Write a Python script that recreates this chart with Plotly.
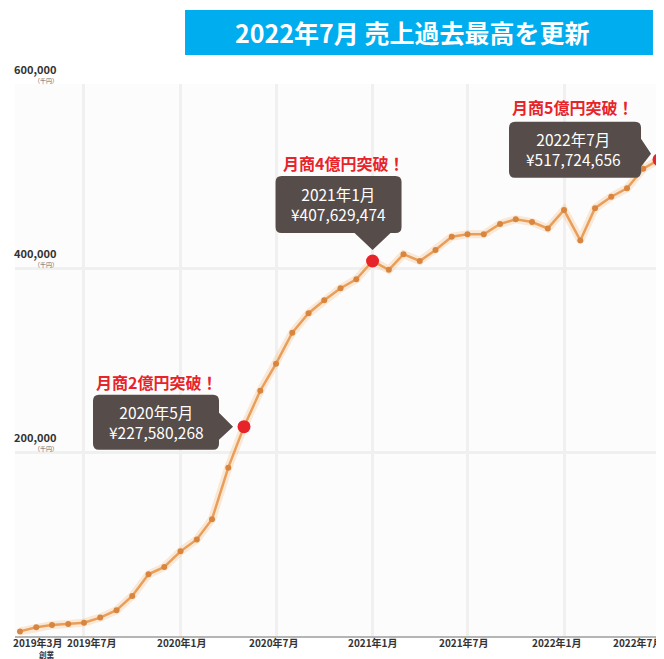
import plotly.graph_objects as go

# monthly sales (unit: 千円)
months = [
    "2019-03", "2019-04", "2019-05", "2019-06", "2019-07", "2019-08", "2019-09",
    "2019-10", "2019-11", "2019-12", "2020-01", "2020-02", "2020-03", "2020-04",
    "2020-05", "2020-06", "2020-07", "2020-08", "2020-09", "2020-10", "2020-11",
    "2020-12", "2021-01", "2021-02", "2021-03", "2021-04", "2021-05", "2021-06",
    "2021-07", "2021-08", "2021-09", "2021-10", "2021-11", "2021-12", "2022-01",
    "2022-02", "2022-03", "2022-04", "2022-05", "2022-06", "2022-07",
]
sales = [
    5000, 9500, 12000, 13000, 14500, 20000, 28000,
    43500, 67000, 75000, 92000, 105000, 127000, 183000,
    227580, 266600, 296000, 329700, 350800, 365000, 378000,
    387700, 407629, 398000, 415000, 407600, 419600, 434000,
    436600, 436600, 447800, 453000, 450000, 443000, 463000,
    430000, 465000, 477500, 486600, 508000, 517725,
]

# milestones
ms_months = ["2020-05", "2021-01", "2022-07"]
ms_yen = [227580268, 407629474, 517724656]
ms_headlines = ["月商2億円突破！", "月商4億円突破！", "月商5億円突破！"]

# axis labels
x_tick_months = ["2019-03", "2019-07", "2020-01", "2020-07", "2021-01", "2021-07", "2022-01", "2022-07"]
x_tick_labels = ["2019年3月", "2019年7月", "2020年1月", "2020年7月",
                 "2021年1月", "2021年7月", "2022年1月", "2022年7月"]
founding_note = "創業"
y_tick_vals = [200000, 400000, 600000]

title_text = "2022年7月 売上過去最高を更新"

FONT = "Noto Sans CJK JP"
BOX = "#564c49"
RED = "#e8242b"

# label nudges (pixels) and anchors for the x labels
x_label_shift = [-8, 8, 1, -2, 0, -4, -7, 5]
x_label_anchor = ["left", "center", "center", "center", "center", "center", "center", "right"]


def callout_path(l, r, t, b, rad, side, p0, p1, tip):
    """rounded box (pixel offsets, y up) with a pointer on the right or bottom side"""
    tx, ty = tip
    d = f"M{l + rad},{t} L{r - rad},{t} Q{r},{t} {r},{t - rad} "
    if side == "right":
        d += f"L{r},{p0} L{tx},{ty} L{r},{p1} "
    d += f"L{r},{b + rad} Q{r},{b} {r - rad},{b} "
    if side == "bottom":
        d += f"L{p1},{b} L{tx},{ty} L{p0},{b} "
    d += f"L{l + rad},{b} Q{l},{b} {l},{b + rad} L{l},{t - rad} Q{l},{t} {l + rad},{t} Z"
    return d


# callout geometry relative to each milestone dot, in pixels
callouts = [
    dict(box=(-151, -25, 32, -23), side="right", p=(14, -13), tip=(-11, 0),
         text_shift=(-88, 5), head_shift=(-88, 45)),
    dict(box=(-97, 29, 85, 28), side="bottom", p=(-18, 18), tip=(0, 11),
         text_shift=(-34, 57), head_shift=(-29, 98)),
    dict(box=(-150, -18, 38, -18), side="right", p=(21, -7), tip=(-8, 6),
         text_shift=(-86, 11), head_shift=(-87, 53)),
]

fig = go.Figure()

# soft glow under the line
fig.add_trace(go.Scatter(
    x=months, y=sales, mode="lines",
    line=dict(color="rgba(245,170,100,0.25)", width=8),
    hoverinfo="skip",
))
fig.add_trace(go.Scatter(
    x=months, y=sales, mode="lines+markers",
    line=dict(color="#e99e5a", width=2.5),
    marker=dict(color="#d8863f", size=6),
    hoverinfo="skip",
))
fig.add_trace(go.Scatter(
    x=ms_months, y=[v / 1000 for v in ms_yen], mode="markers",
    marker=dict(color=RED, size=13),
    hoverinfo="skip",
))

shapes = []
annotations = []

for m, yen, head, c in zip(ms_months, ms_yen, ms_headlines, callouts):
    l, r, t, b = c["box"]
    yv = yen / 1000
    shapes.append(dict(
        type="path", xref="x", yref="y", xsizemode="pixel", ysizemode="pixel",
        xanchor=m, yanchor=yv,
        path=callout_path(l, r, t, b, 6, c["side"], c["p"][0], c["p"][1], c["tip"]),
        fillcolor=BOX, line=dict(width=0), layer="above",
    ))
    label = f"{m[:4]}年{int(m[5:])}月<br>¥{yen:,}"
    annotations.append(dict(
        x=m, y=yv, xref="x", yref="y", text=label, showarrow=False,
        xshift=c["text_shift"][0], yshift=c["text_shift"][1],
        font=dict(family=FONT, size=15.5, color="white"),
        xanchor="center", yanchor="middle",
    ))
    annotations.append(dict(
        x=m, y=yv, xref="x", yref="y", text=head, showarrow=False,
        xshift=c["head_shift"][0], yshift=c["head_shift"][1],
        font=dict(family=FONT, size=16, color=RED, weight="bold"),
        xanchor="center", yanchor="middle",
    ))

# y tick labels sit above their gridlines, with the unit underneath
for v in y_tick_vals:
    annotations.append(dict(
        x=0, y=v, xref="paper", yref="y", text=f"{v:,}", showarrow=False,
        xanchor="left", yanchor="middle", xshift=-3, yshift=15,
        font=dict(family=FONT, size=11, color="#333333", weight="bold"),
    ))
    annotations.append(dict(
        x=0, y=v, xref="paper", yref="y", text="（千円）", showarrow=False,
        xanchor="right", yanchor="middle", xshift=45, yshift=4,
        font=dict(family=FONT, size=6, color="#666666"),
    ))

# x tick labels
for m, lab, sh, anc in zip(x_tick_months, x_tick_labels, x_label_shift, x_label_anchor):
    annotations.append(dict(
        x=m, y=0, xref="x", yref="paper", text=lab, showarrow=False,
        xanchor=anc, yanchor="top", xshift=sh, yshift=2, borderpad=0,
        font=dict(family=FONT, size=10, color="#333333", weight="bold"),
    ))
annotations.append(dict(
    x=x_tick_months[0], y=0, xref="x", yref="paper", text=founding_note, showarrow=False,
    xanchor="center", yanchor="top", xshift=27, yshift=-12, borderpad=0,
    font=dict(family=FONT, size=7.5, color="#333333", weight="bold"),
))

# title banner
shapes.append(dict(
    type="rect", xref="paper", yref="paper",
    x0=0.262, x1=0.983, y0=1.0525, y1=1.134,
    fillcolor="#00adef", line=dict(width=0),
))
annotations.append(dict(
    x=0.612, y=1.094, xref="paper", yref="paper", text=title_text, showarrow=False,
    xanchor="center", yanchor="middle",
    font=dict(family=FONT, size=25, color="white", weight="bold"),
))

# the page body has an 8px margin, so the figure is sized/offset for that
fig.update_layout(
    width=656, height=651,
    margin=dict(l=7, r=0, t=76, b=23),
    paper_bgcolor="white", plot_bgcolor="#fcfcfc",
    showlegend=False,
    shapes=shapes, annotations=annotations,
    font=dict(family=FONT),
)
fig.update_xaxes(
    type="date", range=["2019-02-19 12:00", "2022-07-10 12:00"],
    tickvals=x_tick_months[1:], showticklabels=False,
    showgrid=True, gridcolor="#f0f0f0", gridwidth=3,
    showline=True, linecolor="#b5b5b5", linewidth=2,
    zeroline=False, automargin=False,
)
fig.update_yaxes(
    range=[0, 600000], tickvals=y_tick_vals, showticklabels=False,
    showgrid=True, gridcolor="#f0f0f0", gridwidth=3,
    zeroline=False, automargin=False,
)

fig.write_html("out.html")
